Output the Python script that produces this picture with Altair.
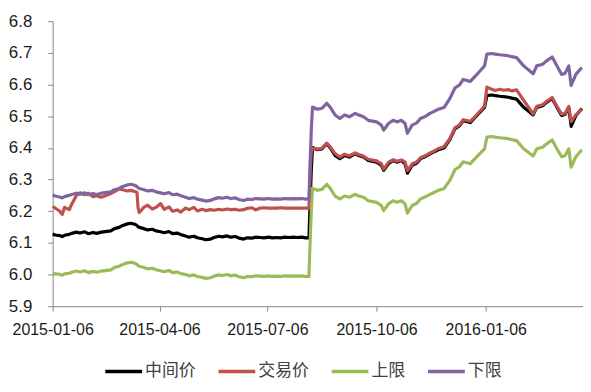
import altair as alt
import pandas as pd

dates = [
    "2015-01-06", "2015-01-08", "2015-01-12", "2015-01-14", "2015-01-16", "2015-01-20", "2015-01-22", "2015-01-26", "2015-01-29",
    "2015-02-02", "2015-02-05", "2015-02-09", "2015-02-12", "2015-02-16", "2015-02-24", "2015-02-27",
    "2015-03-03", "2015-03-06", "2015-03-10", "2015-03-13", "2015-03-16", "2015-03-18", "2015-03-19", "2015-03-20", "2015-03-24", "2015-03-27", "2015-03-31",
    "2015-04-03", "2015-04-07", "2015-04-10", "2015-04-14", "2015-04-17", "2015-04-21", "2015-04-24", "2015-04-28",
    "2015-05-01", "2015-05-05", "2015-05-08", "2015-05-12", "2015-05-15", "2015-05-19", "2015-05-22", "2015-05-26", "2015-05-29",
    "2015-06-02", "2015-06-05", "2015-06-09", "2015-06-12", "2015-06-16", "2015-06-19", "2015-06-23", "2015-06-26", "2015-06-30",
    "2015-07-03", "2015-07-07", "2015-07-10", "2015-07-14", "2015-07-17", "2015-07-21", "2015-07-24", "2015-07-28", "2015-07-31",
    "2015-08-04", "2015-08-07", "2015-08-10", "2015-08-11", "2015-08-12", "2015-08-13", "2015-08-17", "2015-08-21", "2015-08-25", "2015-08-28",
    "2015-09-01", "2015-09-05", "2015-09-09", "2015-09-13", "2015-09-18", "2015-09-21", "2015-09-25", "2015-09-29",
    "2015-10-06", "2015-10-10", "2015-10-12", "2015-10-16", "2015-10-20", "2015-10-23", "2015-10-27", "2015-10-30",
    "2015-11-01", "2015-11-05", "2015-11-09", "2015-11-12", "2015-11-16", "2015-11-20", "2015-11-24", "2015-11-27", "2015-11-30",
    "2015-12-02", "2015-12-07", "2015-12-11", "2015-12-15", "2015-12-18", "2015-12-24", "2015-12-28",
    "2016-01-01", "2016-01-05", "2016-01-07", "2016-01-11", "2016-01-14", "2016-01-18", "2016-01-21", "2016-01-25", "2016-01-28",
    "2016-02-01", "2016-02-07", "2016-02-15", "2016-02-18", "2016-02-23", "2016-02-26",
    "2016-03-02", "2016-03-06", "2016-03-10", "2016-03-13", "2016-03-16", "2016-03-18", "2016-03-22", "2016-03-27",
]

mid = [
    6.128, 6.125, 6.123, 6.120, 6.124, 6.127, 6.130, 6.134, 6.131,
    6.135, 6.129, 6.133, 6.130, 6.134, 6.138, 6.145,
    6.149, 6.155, 6.160, 6.162, 6.159, 6.155, 6.151, 6.149, 6.145, 6.141, 6.143,
    6.138, 6.135, 6.132, 6.136, 6.129, 6.131, 6.126, 6.122,
    6.118, 6.121, 6.116, 6.113, 6.110, 6.112, 6.117, 6.121, 6.119,
    6.122, 6.118, 6.120, 6.115, 6.112, 6.116, 6.115, 6.118, 6.117,
    6.116, 6.118, 6.116, 6.117, 6.116, 6.118, 6.117, 6.118, 6.117,
    6.118, 6.116, 6.116, 6.230, 6.331, 6.401, 6.394, 6.397, 6.413, 6.400,
    6.376, 6.366, 6.376, 6.371, 6.381, 6.376, 6.371, 6.360,
    6.355, 6.345, 6.329, 6.350, 6.360, 6.355, 6.360, 6.350,
    6.320, 6.345, 6.352, 6.366, 6.372, 6.381, 6.388, 6.394, 6.397,
    6.400, 6.428, 6.460, 6.470, 6.486, 6.480, 6.496,
    6.512, 6.528, 6.565, 6.567, 6.565, 6.563, 6.562, 6.560, 6.557,
    6.554, 6.528, 6.504, 6.528, 6.533, 6.543,
    6.556, 6.528, 6.502, 6.506, 6.528, 6.468, 6.502, 6.524,
]

trade = [
    6.215, 6.210, 6.200, 6.190, 6.212, 6.205, 6.222, 6.250, 6.258,
    6.252, 6.257, 6.246, 6.249, 6.244, 6.256, 6.262,
    6.270, 6.268, 6.264, 6.266, 6.262, 6.260, 6.210, 6.196, 6.213, 6.219, 6.207,
    6.212, 6.224, 6.206, 6.214, 6.200, 6.204, 6.197, 6.210,
    6.205, 6.212, 6.201, 6.206, 6.202, 6.205, 6.203, 6.206, 6.204,
    6.207, 6.205, 6.206, 6.203, 6.205, 6.209, 6.211, 6.204, 6.210,
    6.211, 6.210, 6.210, 6.210, 6.211, 6.210, 6.210, 6.210, 6.210,
    6.210, 6.210, 6.210, 6.323, 6.387, 6.399, 6.396, 6.399, 6.415, 6.403,
    6.382, 6.371, 6.380, 6.375, 6.384, 6.379, 6.374, 6.364,
    6.359, 6.350, 6.333, 6.354, 6.363, 6.358, 6.362, 6.356,
    6.328, 6.349, 6.356, 6.369, 6.375, 6.384, 6.391, 6.398, 6.401,
    6.405, 6.431, 6.463, 6.473, 6.489, 6.484, 6.499,
    6.515, 6.532, 6.592, 6.585, 6.581, 6.585, 6.582, 6.584, 6.580,
    6.583, 6.550, 6.507, 6.531, 6.536, 6.546,
    6.559, 6.531, 6.506, 6.509, 6.531, 6.483, 6.505, 6.522,
]

upper = [
    6.005, 6.002, 6.001, 5.998, 6.002, 6.004, 6.007, 6.011, 6.008,
    6.012, 6.006, 6.010, 6.007, 6.011, 6.015, 6.022,
    6.026, 6.032, 6.037, 6.039, 6.036, 6.032, 6.028, 6.026, 6.022, 6.018, 6.020,
    6.015, 6.012, 6.009, 6.013, 6.006, 6.008, 6.003, 6.000,
    5.996, 5.999, 5.994, 5.991, 5.988, 5.990, 5.995, 5.999, 5.997,
    6.000, 5.996, 5.998, 5.993, 5.990, 5.994, 5.993, 5.996, 5.995,
    5.994, 5.996, 5.994, 5.995, 5.994, 5.996, 5.995, 5.996, 5.995,
    5.996, 5.994, 5.994, 6.105, 6.204, 6.273, 6.266, 6.269, 6.285, 6.272,
    6.248, 6.239, 6.248, 6.244, 6.253, 6.248, 6.244, 6.233,
    6.228, 6.218, 6.202, 6.223, 6.233, 6.228, 6.233, 6.223,
    6.194, 6.218, 6.225, 6.239, 6.245, 6.253, 6.260, 6.266, 6.269,
    6.272, 6.299, 6.331, 6.341, 6.356, 6.350, 6.366,
    6.382, 6.397, 6.434, 6.436, 6.434, 6.432, 6.431, 6.429, 6.426,
    6.423, 6.397, 6.374, 6.397, 6.402, 6.412,
    6.425, 6.397, 6.372, 6.376, 6.397, 6.339, 6.372, 6.394,
]

lower = [
    6.251, 6.248, 6.245, 6.242, 6.246, 6.250, 6.253, 6.257, 6.254,
    6.258, 6.252, 6.256, 6.253, 6.257, 6.261, 6.268,
    6.272, 6.278, 6.283, 6.285, 6.282, 6.278, 6.274, 6.272, 6.268, 6.264, 6.266,
    6.261, 6.258, 6.255, 6.259, 6.252, 6.254, 6.249, 6.244,
    6.240, 6.243, 6.238, 6.235, 6.232, 6.234, 6.239, 6.243, 6.241,
    6.244, 6.240, 6.242, 6.237, 6.234, 6.238, 6.237, 6.240, 6.239,
    6.238, 6.240, 6.238, 6.239, 6.238, 6.240, 6.239, 6.240, 6.239,
    6.240, 6.238, 6.238, 6.355, 6.458, 6.529, 6.522, 6.525, 6.541, 6.528,
    6.504, 6.493, 6.504, 6.498, 6.509, 6.504, 6.498, 6.487,
    6.482, 6.472, 6.456, 6.477, 6.487, 6.482, 6.487, 6.477,
    6.446, 6.472, 6.479, 6.493, 6.499, 6.509, 6.516, 6.522, 6.525,
    6.528, 6.557, 6.589, 6.599, 6.616, 6.610, 6.626,
    6.642, 6.659, 6.696, 6.698, 6.696, 6.694, 6.693, 6.691, 6.688,
    6.685, 6.659, 6.634, 6.659, 6.664, 6.674,
    6.687, 6.659, 6.632, 6.636, 6.659, 6.597, 6.632, 6.654,
]

series_names = ["中间价", "交易价", "上限", "下限"]
series_colors = ["#000000", "#C0504D", "#9BBB59", "#8064A2"]
y_ticks = [5.9, 6.0, 6.1, 6.2, 6.3, 6.4, 6.5, 6.6, 6.7, 6.8]
x_ticks = ["2015-01-06", "2015-04-06", "2015-07-06", "2015-10-06", "2016-01-06"]
x_domain = ["2015-01-06", "2016-03-28"]

frames = []
for name, vals in zip(series_names, [mid, trade, upper, lower]):
    frames.append(pd.DataFrame({"date": dates, "value": vals, "series": name}))
df = pd.concat(frames, ignore_index=True)


def dt(s):
    y, m, d = (int(p) for p in s.split("-"))
    return alt.DateTime(year=y, month=m, date=d, utc=True)


base = alt.Chart(df).mark_line(strokeWidth=3.2, strokeJoin="round").encode(
    x=alt.X(
        "date:T",
        scale=alt.Scale(type="utc", domain=[dt(s) for s in x_domain]),
        axis=alt.Axis(
            values=[dt(s) for s in x_ticks],
            format="%Y-%m-%d",
            title=None,
            labelFlush=False,
            labelOverlap=False,
            labelPadding=10,
        ),
    ),
    y=alt.Y(
        "value:Q",
        scale=alt.Scale(domain=[5.9, 6.8], zero=False, nice=False),
        axis=alt.Axis(values=y_ticks, format=".1f", title=None, labelPadding=16, labelFontSize=17),
    ),
    color=alt.Color(
        "series:N",
        scale=alt.Scale(domain=series_names, range=series_colors),
        title=None,
        legend=alt.Legend(
            orient="none",
            legendX=51,
            legendY=332,
            direction="horizontal",
            symbolType="stroke",
            symbolSize=1369,
            symbolStrokeWidth=3.5,
            labelFont="Noto Sans CJK SC",
            labelFontSize=17,
            labelColor="#404040",
            labelOffset=1,
            columnPadding=16,
            padding=0,
        ),
    ),
)

layers = [base.transform_filter(alt.datum.series == n) for n in series_names]

chart = (
    alt.layer(*layers)
    .properties(
        width=534,
        height=287,
        autosize=alt.AutoSizeParams(type="none"),
        padding={"left": 45, "top": 12, "right": 0, "bottom": 73},
    )
    .configure_view(strokeWidth=0)
    .configure_axis(
        grid=False,
        domainColor="#868686",
        tickColor="#868686",
        tickSize=5,
        labelFont="Liberation Sans",
        labelFontSize=16,
        labelColor="#1a1a1a",
    )
)

chart.save("out.html", embed_options={"renderer": "svg", "actions": False})
